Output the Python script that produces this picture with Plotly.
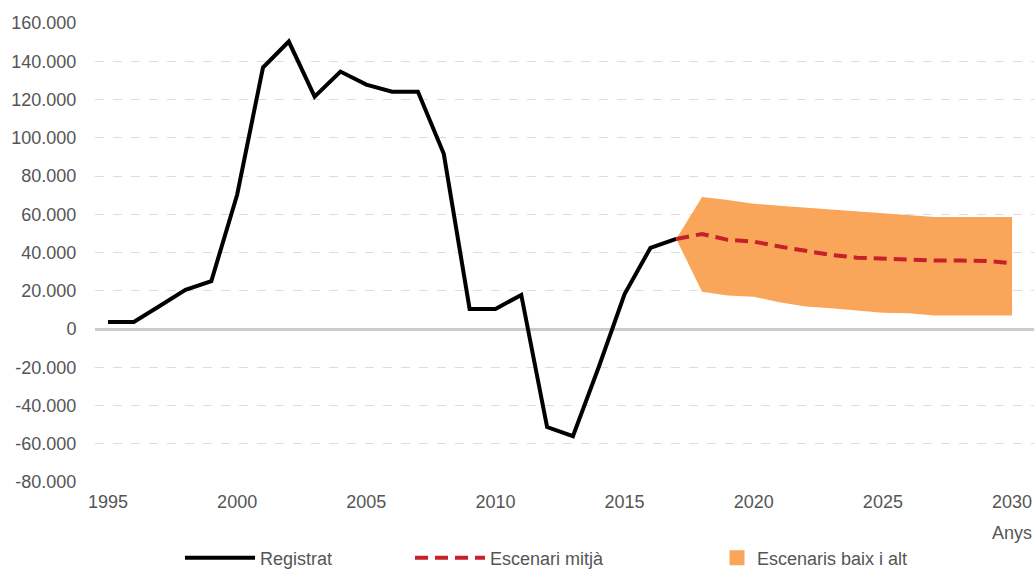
import plotly.graph_objects as go

# ---- data ----
years_reg = list(range(1995, 2018))
registrat = [3700, 3700, 12000, 20500, 25000, 70200, 136700, 150300, 121500, 134600,
             127800, 124100, 124100, 91600, 10500, 10500, 17800, -51300, -56000, -19900,
             18300, 42400, 47100]

years_proj = list(range(2017, 2031))
mitja = [47100, 49700, 46600, 45700, 43100, 41000, 38700, 37300, 36700, 36500, 35800, 35800, 35600, 34400]
alt = [47100, 69000, 67500, 65500, 64500, 63500, 62500, 61500, 60300, 59500, 58500, 58500, 58500, 58500]
baix = [47100, 19500, 17500, 16800, 14000, 11800, 10800, 9800, 8500, 8200, 7000, 7000, 7000, 7000]

y_tickvals = [160000, 140000, 120000, 100000, 80000, 60000, 40000, 20000, 0,
              -20000, -40000, -60000, -80000]
y_ticktext = ["160.000", "140.000", "120.000", "100.000", "80.000", "60.000", "40.000",
              "20.000", "0", "-20.000", "-40.000", "-60.000", "-80.000"]
x_tickvals = [1995, 2000, 2005, 2010, 2015, 2020, 2025, 2030]

FONT = "Liberation Sans"
TXT = "#555555"
FS = 18
ORANGE = "#F9A55A"

fig = go.Figure()

fig.add_trace(go.Scatter(x=years_proj, y=baix, mode="lines", line=dict(width=0, color=ORANGE),
                         showlegend=False, hoverinfo="skip"))
fig.add_trace(go.Scatter(x=years_proj, y=alt, mode="lines", line=dict(width=0, color=ORANGE),
                         fill="tonexty", fillcolor=ORANGE, name="Escenaris baix i alt",
                         showlegend=False))
# legend-only entry for the band (square swatch)
fig.add_trace(go.Scatter(x=[None], y=[None], mode="markers", name="Escenaris baix i alt",
                         marker=dict(symbol="square", size=15, color=ORANGE),
                         legend="legend3"))
fig.add_trace(go.Scatter(x=years_reg, y=registrat, mode="lines", name="Registrat",
                         line=dict(color="black", width=4), legend="legend"))
fig.add_trace(go.Scatter(x=years_proj, y=mitja, mode="lines", name="Escenari mitjà",
                         line=dict(color="#C8202A", width=4, dash="13px,7px"), legend="legend2"))

PLOT_W = 939
LEG_Y = -(558 - 482) / 459


def lx(page_x):
    return (page_x - 95) / PLOT_W


leg_common = dict(orientation="h", yanchor="middle", y=LEG_Y, xanchor="left",
                  font=dict(family=FONT, size=FS, color=TXT), bgcolor="rgba(0,0,0,0)")

fig.update_layout(
    width=1034, height=571,
    margin=dict(l=95, r=0, t=23, b=89, autoexpand=False),
    paper_bgcolor="white", plot_bgcolor="white",
    separators=",.",
    font=dict(family=FONT, size=FS, color=TXT),
    legend=dict(**leg_common, x=lx(180), itemwidth=70),
    legend2=dict(**leg_common, x=lx(410), itemwidth=70),
    legend3=dict(**leg_common, x=lx(717)),
    xaxis=dict(range=[1994.497, 2030.85], tickvals=x_tickvals, showgrid=False, zeroline=False,
               showline=False, ticks="outside", ticklen=3, tickcolor="white",
               ticklabeloverflow="allow",
               tickfont=dict(family=FONT, size=FS, color=TXT)),
    yaxis=dict(range=[-80000, 160000], tickvals=y_tickvals, ticktext=y_ticktext,
               showgrid=True, gridcolor="#DDDDDD", griddash="dash", gridwidth=1,
               zeroline=True, zerolinecolor="#CCCCCC", zerolinewidth=3,
               showline=False, ticks="outside", ticklen=14, tickcolor="white",
               tickfont=dict(family=FONT, size=FS, color=TXT)),
    annotations=[dict(text="Anys", xref="paper", yref="paper", x=1, y=-0.111,
                      xanchor="right", yanchor="middle", showarrow=False,
                      font=dict(family=FONT, size=FS, color=TXT))],
)

fig.write_html("out.html", config={"displayModeBar": False},
               post_script="document.body.style.margin='0';document.body.style.overflow='hidden';")
